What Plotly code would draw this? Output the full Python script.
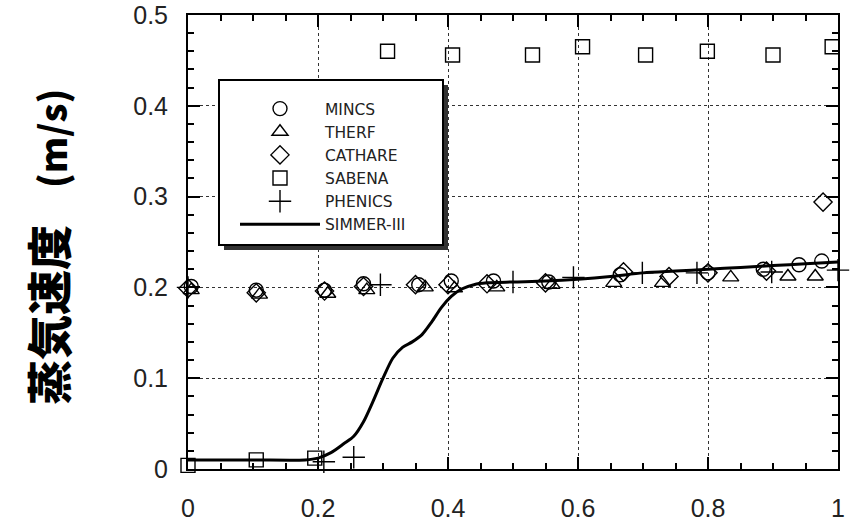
import plotly.graph_objects as go

# ---- data ----
mincs_x = [0.005, 0.105, 0.21, 0.27, 0.355, 0.405, 0.47, 0.555, 0.665, 0.80, 0.885, 0.94, 0.975]
mincs_y = [0.201, 0.197, 0.197, 0.204, 0.203, 0.207, 0.207, 0.206, 0.214, 0.216, 0.220, 0.225, 0.229]

therf_x = [0.005, 0.11, 0.215, 0.275, 0.365, 0.41, 0.475, 0.56, 0.655, 0.73, 0.835, 0.923, 0.965]
therf_y = [0.197, 0.192, 0.193, 0.197, 0.200, 0.199, 0.200, 0.203, 0.205, 0.205, 0.211, 0.212, 0.212]

cathare_x = [0.0, 0.105, 0.21, 0.27, 0.35, 0.40, 0.46, 0.55, 0.67, 0.74, 0.80, 0.89, 0.977]
cathare_y = [0.199, 0.194, 0.196, 0.201, 0.203, 0.203, 0.204, 0.205, 0.217, 0.212, 0.216, 0.218, 0.294]

sabena_x = [0.0, 0.105, 0.195, 0.307, 0.407, 0.530, 0.607, 0.704, 0.799, 0.900, 0.991]
sabena_y = [0.004, 0.010, 0.012, 0.460, 0.456, 0.456, 0.465, 0.456, 0.460, 0.456, 0.465]

phenics_x = [0.0, 0.209, 0.255, 0.296, 0.50, 0.593, 0.699, 0.783, 0.898, 1.0]
phenics_y = [0.200, 0.008, 0.013, 0.203, 0.206, 0.211, 0.216, 0.216, 0.217, 0.219]

simmer_x = [0.0, 0.1, 0.18, 0.2, 0.22, 0.24, 0.255, 0.27, 0.285, 0.30, 0.315, 0.33, 0.345,
            0.36, 0.375, 0.39, 0.405, 0.42, 0.44, 0.46, 0.5, 0.55, 0.6, 0.65, 0.7, 0.75,
            0.8, 0.85, 0.9, 0.95, 1.0]
simmer_y = [0.010, 0.010, 0.010, 0.012, 0.018, 0.028, 0.036, 0.052, 0.075, 0.100, 0.122, 0.134,
            0.140, 0.148, 0.162, 0.178, 0.190, 0.198, 0.203, 0.205, 0.206, 0.207, 0.209, 0.212,
            0.216, 0.218, 0.220, 0.222, 0.224, 0.226, 0.228]

x_ticks = [0, 0.2, 0.4, 0.6, 0.8, 1]
x_ticklabels = ["0", "0.2", "0.4", "0.6", "0.8", "1"]
y_ticks = [0, 0.1, 0.2, 0.3, 0.4, 0.5]
y_ticklabels = ["0", "0.1", "0.2", "0.3", "0.4", "0.5"]

y_title_main = "蒸気速度"
y_title_unit = "(m/s)"

# ---- figure ----
W, H = 858, 525
ML, MR, MT, MB = 188, 20, 15, 56
PW, PH = W - ML - MR, H - MT - MB

def px_x(p):
    return (p - ML) / PW

def px_y(p):
    return (H - MB - p) / PH

fig = go.Figure()
mk = dict(color="black", size=14, line=dict(color="black", width=1.4))

series = [
    ("MINCS", mincs_x, mincs_y, "circle-open"),
    ("THERF", therf_x, therf_y, "triangle-up-open"),
    ("CATHARE", cathare_x, cathare_y, "diamond-open"),
    ("SABENA", sabena_x, sabena_y, "square-open"),
    ("PHENICS", phenics_x, phenics_y, "cross-thin-open"),
]
for name, xs, ys, sym in series:
    m = dict(mk)
    m["symbol"] = sym
    if sym == "cross-thin-open":
        m["size"] = 16
    fig.add_trace(go.Scatter(x=xs, y=ys, mode="markers", name=name, marker=m,
                             cliponaxis=False))

fig.add_trace(go.Scatter(x=simmer_x, y=simmer_y, mode="lines", name="SIMMER-III",
                         line=dict(color="black", width=3, shape="spline", smoothing=0.8)))

axis_common = dict(
    showline=True, linecolor="black", linewidth=2, mirror="allticks",
    ticks="inside", ticklen=12, tickwidth=2, tickcolor="black",
    showgrid=True, gridcolor="#333", griddash="dot", gridwidth=1.3,
    zeroline=False, automargin=False,
    tickfont=dict(family="Liberation Sans, Arial, sans-serif", size=25, color="#222"),
)

fig.update_xaxes(range=[0, 1], tickvals=x_ticks, ticktext=x_ticklabels,
                 minor=dict(dtick=0.05, ticks="inside", ticklen=6, tickwidth=2, tickcolor="black", showgrid=False),
                 ticklabelstandoff=16, **axis_common)
fig.update_yaxes(range=[0, 0.5], tickvals=y_ticks, ticktext=y_ticklabels,
                 minor=dict(dtick=0.02, ticks="inside", ticklen=6, tickwidth=2, tickcolor="black", showgrid=False),
                 ticklabelstandoff=13, **axis_common)

# legend box with drop shadow
fig.add_shape(type="rect", xref="paper", yref="paper", layer="above",
              x0=px_x(224), x1=px_x(448), y0=px_y(250), y1=px_y(85),
              fillcolor="#333", line=dict(width=0))
fig.add_shape(type="rect", xref="paper", yref="paper", layer="above",
              x0=px_x(219), x1=px_x(443), y0=px_y(245), y1=px_y(80),
              fillcolor="white", line=dict(color="black", width=2))

fig.add_annotation(text=y_title_main + '<span style="font-size:37px">　' + y_title_unit + '</span>',
                   xref="paper", yref="paper",
                   x=px_x(47), y=px_y(247), textangle=-90, showarrow=False,
                   xanchor="center", yanchor="middle",
                   font=dict(family="Noto Sans CJK JP", size=45, color="black", weight=900))

fig.update_layout(
    width=W, height=H,
    margin=dict(l=ML, r=MR, t=MT, b=MB),
    paper_bgcolor="white", plot_bgcolor="white",
    showlegend=True, hovermode=False,
    legend=dict(x=px_x(235), y=px_y(92), xanchor="left", yanchor="top",
                bgcolor="rgba(0,0,0,0)", borderwidth=0, itemwidth=80,
                font=dict(family="DejaVu Sans, sans-serif", size=15.5, color="#222"),
                tracegroupgap=0),
)

fig.write_html("out.html", config={"displayModeBar": False},
               post_script="document.body.style.margin='0';")
